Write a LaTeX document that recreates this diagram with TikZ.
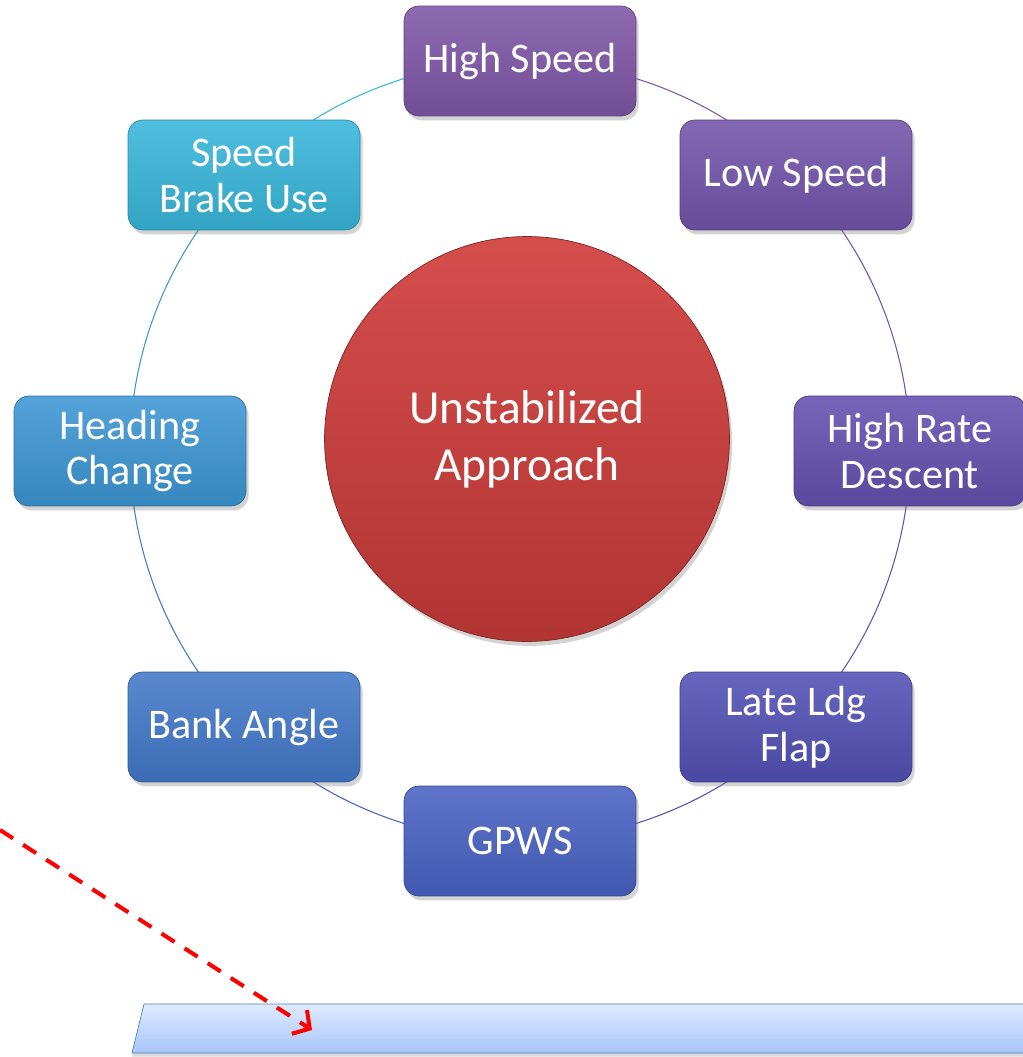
\documentclass[tikz,border=0pt]{standalone}
\usepackage{fontspec}
\setmainfont{Carlito}
\usetikzlibrary{shadows,backgrounds,arrows.meta}

\definecolor{hsColor}{RGB}{126,86,166}
\definecolor{lsColor}{RGB}{114,84,170}
\definecolor{hrdColor}{RGB}{100,80,175}
\definecolor{ldgColor}{RGB}{82,80,180}
\definecolor{gpwsColor}{RGB}{72,98,195}
\definecolor{bankColor}{RGB}{66,120,200}
\definecolor{headColor}{RGB}{60,150,212}
\definecolor{sbuColor}{RGB}{56,182,218}
\definecolor{hubColor}{RGB}{208,62,60}
\definecolor{barTop}{RGB}{222,234,255}
\definecolor{barBottom}{RGB}{168,198,250}
\definecolor{barEdge}{RGB}{79,129,189}

\begin{document}
\begin{tikzpicture}[x=0.02cm,y=-0.02cm]
  \tikzset{BoxStyle/.style = {shape          = rectangle,
                              rounded corners = 0.3cm,
                              minimum width  = 4.64cm,
                              minimum height = 2.2cm,
                              align          = center,
                              text           = white,
                              font           = \fontsize{24}{26}\selectfont,
                              draw           = #1!75!black,
                              top color      = #1!88!white,
                              bottom color   = #1!90!black,
                              drop shadow    = {opacity=0.35,shadow xshift=1.5pt,shadow yshift=-2.5pt}}}
  \tikzset{HubStyle/.style = {shape          = circle,
                              minimum size   = 8.1cm,
                              align          = center,
                              text           = white,
                              font           = \fontsize{27}{32.5}\selectfont,
                              draw           = hubColor!60!black,
                              top color      = hubColor!92!white,
                              bottom color   = hubColor!85!black,
                              drop shadow    = {opacity=0.35,shadow xshift=1.5pt,shadow yshift=-2.5pt}}}
  \tikzset{RingStyle/.style = {line width     = 0.6pt,
                              draw           = #1}}
  \tikzset{BarStyle/.style = {draw           = barEdge,
                              top color      = barTop,
                              bottom color   = barBottom,
                              drop shadow    = {opacity=0.3,shadow xshift=0pt,shadow yshift=-2pt}}}
  \tikzset{WarnStyle/.style = {draw          = red,
                              line width     = 2.3pt,
                              dash pattern   = on 8.8pt off 6.8pt,
                              -{Straight Barb[length=7pt,width=16pt,line width=2.3pt]}}}

\useasboundingbox (0,0) rectangle (1022,1057);

% bar at the foot
\draw[BarStyle] (144,1004) -- (1040,1004) -- (1030,1053) -- (132,1053) -- cycle;

\node[HubStyle] (hub) at (527,439) {Unstabilized\\Approach};

\node[BoxStyle=hsColor]   (hs)   at (520,61)  {High Speed};
\node[BoxStyle=lsColor]   (ls)   at (796,175) {Low Speed};
\node[BoxStyle=hrdColor]  (hrd)  at (910,451) {High Rate\\Descent};
\node[BoxStyle=ldgColor]  (ldg)  at (796,727) {Late Ldg\\Flap};
\node[BoxStyle=gpwsColor] (gpws) at (520,841) {GPWS};
\node[BoxStyle=bankColor] (bank) at (244,727) {Bank Angle};
\node[BoxStyle=headColor] (head) at (130,451) {Heading\\Change};
\node[BoxStyle=sbuColor]  (sbu)  at (244,175) {Speed\\Brake Use};

\begin{scope}[on background layer]
\draw[RingStyle=hsColor]   (hs.center)   to[bend left=22.5,looseness=0.885] (ls.center);
\draw[RingStyle=lsColor]   (ls.center)   to[bend left=22.5,looseness=0.885] (hrd.center);
\draw[RingStyle=hrdColor]  (hrd.center)  to[bend left=22.5,looseness=0.885] (ldg.center);
\draw[RingStyle=ldgColor]  (ldg.center)  to[bend left=22.5,looseness=0.885] (gpws.center);
\draw[RingStyle=gpwsColor] (gpws.center) to[bend left=22.5,looseness=0.885] (bank.center);
\draw[RingStyle=bankColor] (bank.center) to[bend left=22.5,looseness=0.885] (head.center);
\draw[RingStyle=headColor] (head.center) to[bend left=22.5,looseness=0.885] (sbu.center);
\draw[RingStyle=sbuColor]  (sbu.center)  to[bend left=22.5,looseness=0.885] (hs.center);
\end{scope}

\coordinate (warnstart) at (0,830);
\coordinate (warnend)   at (312,1030);
\draw[WarnStyle] (warnstart) -- (warnend);
\end{tikzpicture}
\end{document}
